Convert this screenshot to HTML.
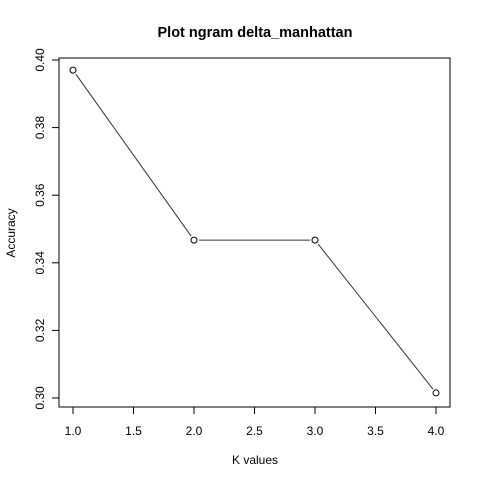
<!DOCTYPE html>
<html><head><meta charset="utf-8"><style>body{margin:0;background:#fff}svg{display:block}text{font-family:"Liberation Sans",Arial,sans-serif;fill:#000}</style></head>
<body>
<svg id="chart" width="480" height="480" viewBox="0 0 480 480">
<rect x="0" y="0" width="480" height="480" fill="#fff"/>
<text x="255" y="37" font-size="14.5" font-weight="bold" text-anchor="middle">Plot ngram delta_manhattan</text>
<rect x="59" y="58" width="391" height="349" fill="none" stroke="#000" stroke-width="1"/>
<text x="255" y="464" font-size="12" text-anchor="middle">K values</text>
<text x="0" y="0" font-size="12" text-anchor="middle" transform="translate(15,233) rotate(-90)">Accuracy</text>
<g id="xaxis"></g>
<g id="yaxis"></g>
<g id="series"></g>
</svg>
<script>
const kValues = [1, 2, 3, 4];
const accuracy = [0.397, 0.3467, 0.3467, 0.3015];
const xTicks = [1.0, 1.5, 2.0, 2.5, 3.0, 3.5, 4.0];
const xTickLabels = ["1.0", "1.5", "2.0", "2.5", "3.0", "3.5", "4.0"];
const yTicks = [0.30, 0.32, 0.34, 0.36, 0.38, 0.40];
const yTickLabels = ["0.30", "0.32", "0.34", "0.36", "0.38", "0.40"];

const NS = "http://www.w3.org/2000/svg";
function xs(v){ return 73 + (v - 1) * 121; }
function ys(v){ return 398 - (v - 0.30) * 3380; }
function mk(tag, attrs, parent){
  const e = document.createElementNS(NS, tag);
  for (const k in attrs) e.setAttribute(k, attrs[k]);
  parent.appendChild(e);
  return e;
}
const xg = document.getElementById("xaxis");
mk("line", {x1: xs(xTicks[0]), x2: xs(xTicks[xTicks.length-1]), y1: 407, y2: 407, stroke: "#000"}, xg);
xTicks.forEach((t, i) => {
  const l = mk("line", {x1: xs(t), x2: xs(t), y1: 407, y2: 414, stroke: "#000"}, xg);
  
  
  const tx = mk("text", {x: xs(t), y: 435, "font-size": 12, "text-anchor": "middle"}, xg);
  tx.textContent = xTickLabels[i];
  
  
});
const yg = document.getElementById("yaxis");
mk("line", {x1: 59, x2: 59, y1: ys(yTicks[0]), y2: ys(yTicks[yTicks.length-1]), stroke: "#000"}, yg);
yTicks.forEach((t, i) => {
  const l = mk("line", {x1: 52, x2: 59, y1: ys(t), y2: ys(t), stroke: "#000"}, yg);
  
  
  const tx = mk("text", {x: 0, y: 0, "font-size": 12, "text-anchor": "middle", transform: "translate(44," + ys(t) + ") rotate(-90)"}, yg);
  tx.textContent = yTickLabels[i];
  
  
});
const sg = document.getElementById("series");
for (let i = 0; i < kValues.length - 1; i++) {
  const x1 = xs(kValues[i]), y1 = ys(accuracy[i]), x2 = xs(kValues[i+1]), y2 = ys(accuracy[i+1]);
  const dx = x2 - x1, dy = y2 - y1, d = Math.hypot(dx, dy), r = 5;
  const l = mk("line", {x1: x1 + dx/d*r, y1: y1 + dy/d*r, x2: x2 - dx/d*r, y2: y2 - dy/d*r, stroke: "#333", "stroke-width": 1}, sg);
  
  
}
kValues.forEach((k, i) => {
  const c = mk("circle", {cx: xs(k), cy: ys(accuracy[i]), r: 3, fill: "none", stroke: "#000", "stroke-width": 1}, sg);
  
  
});
</script>
</body></html>
